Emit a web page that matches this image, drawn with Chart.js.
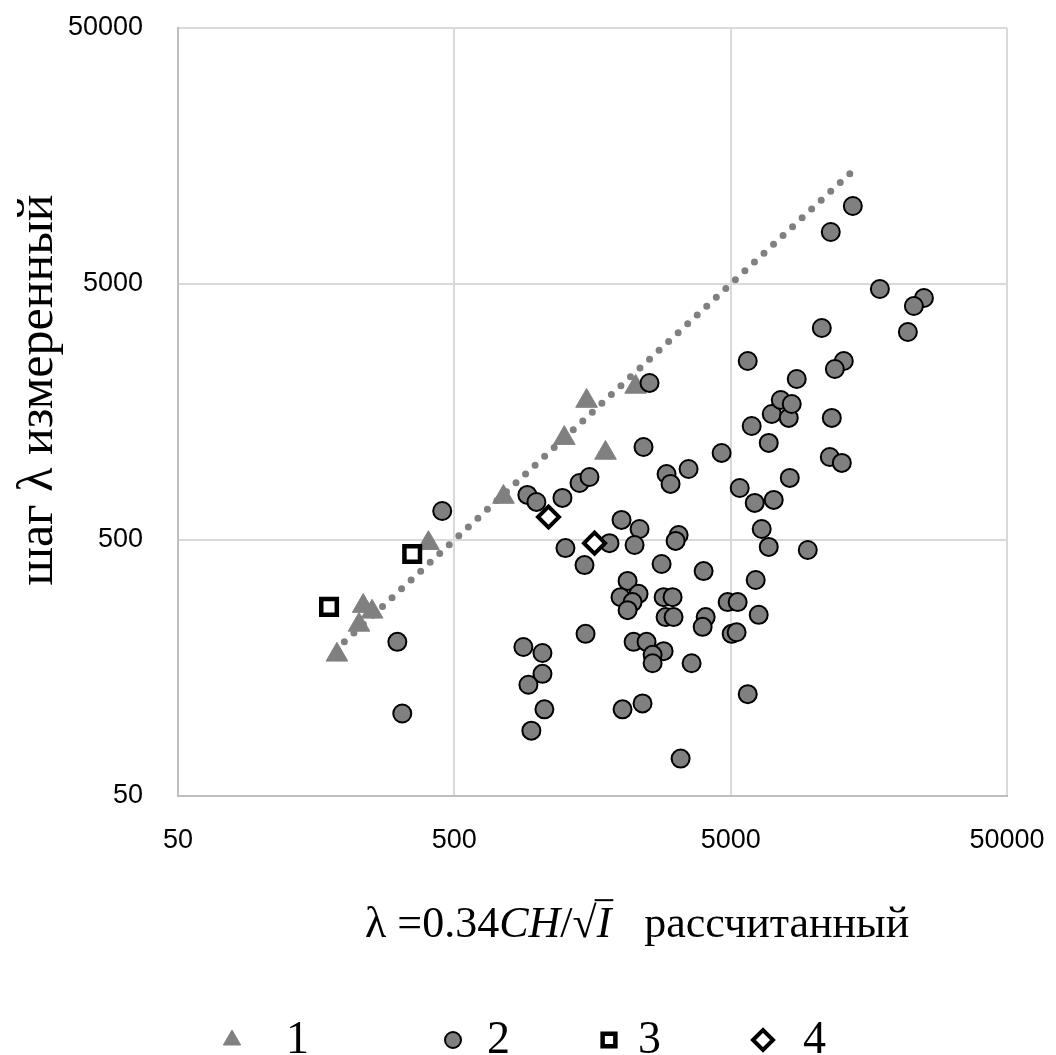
<!DOCTYPE html>
<html>
<head>
<meta charset="utf-8">
<script src="https://cdn.jsdelivr.net/npm/chart.js@4"></script>
<style>
html, body { margin: 0; padding: 0; background: #fff; }
</style>
</head>
<body>
<canvas id="chart" width="1056" height="1055"></canvas>
<script>
// tick values (both axes)
const tickValues = [50, 500, 5000, 50000];

// series 1 - triangles
const s1x = [188, 226, 234, 252, 403, 753, 1250, 1505, 1762, 2265];
const s1y = [178, 233, 276, 262, 486, 736, 1250, 1745, 1094, 1981];

// series 2 - circles
const s2x = [452, 311, 324, 889, 1042, 1042, 927, 1059, 950, 919,
    991, 1231, 1419, 1542, 1262, 1479, 1492, 1822, 2014, 2340,
    2245, 2812, 2118, 2321, 1997, 2208, 2118, 2860, 3082, 2907,
    3107, 2227, 2481, 2860, 2609, 2609, 2031, 2399, 3295, 3241,
    3160, 3991, 4876, 5300, 4060, 3959, 3611, 5042, 5254, 5764,
    6110, 7158, 6476, 6867, 9506, 6160, 6316, 5391, 8182, 2931,
    3030, 3521, 4637, 2419, 2543, 5764, 5957, 6867, 7040, 8113,
    7590, 8317, 8671, 11614, 11421, 12625, 12834, 11910, 10685, 13836,
    11514, 17335, 25024, 23015, 21888];
const s2y = [649, 200, 105, 191, 181, 150, 136, 109, 90, 750,
    704, 730, 835, 881, 465, 399, 215, 486, 599, 552,
    478, 403, 346, 308, 299, 286, 266, 299, 299, 250,
    250, 200, 200, 184, 178, 165, 109, 115, 70, 523,
    496, 378, 286, 286, 250, 229, 165, 215, 218, 125,
    698, 717, 552, 470, 457, 349, 255, 798, 874, 905,
    828, 947, 1094, 1154, 2053, 2501, 1394, 1197, 1553, 1499,
    1762, 1699, 2128, 1499, 1055, 1000, 2501, 2328, 3366, 10085,
    7981, 4780, 4409, 4102, 3246];

// series 3 - squares
const s3x = [176, 352];
const s3y = [274, 441];

// series 4 - diamonds
const s4x = [1096, 1608];
const s4y = [615, 486];

// dotted line y = x
const lineX = [200, 14400];
const lineY = [200, 14400];

const legendLabels = ['1', '2', '3', '4'];

function pts(xs, ys) {
    return xs.map((x, i) => ({ x: x, y: ys[i] }));
}

// axis titles and legend drawn on the canvas
const extrasPlugin = {
    id: 'extras',
    afterDraw(chart) {
        const ctx = chart.ctx;
        ctx.save();
        ctx.fillStyle = '#000';
        ctx.textBaseline = 'alphabetic';

        // x title
        const fs = 44;
        const reg = fs + 'px "Liberation Serif"';
        const ita = 'italic ' + fs + 'px "Liberation Serif"';
        let x = 365;
        const y = 937;
        const put = (t, f) => {
            ctx.font = f;
            ctx.fillText(t, x, y);
            x += ctx.measureText(t).width;
        };
        put('\u03bb =0.34', reg);
        put('CH', ita);
        put('/', reg);
        put('\u221a', reg);
        const barStart = x - 2;
        put('I', ita);
        ctx.fillRect(barStart, y - fs * 0.86, x - barStart + 2, 2);
        x += fs * 0.75;
        put('рассчитанный', reg);

        // y title
        ctx.save();
        ctx.translate(52, 390);
        ctx.rotate(-Math.PI / 2);
        ctx.textAlign = 'center';
        ctx.font = '50px "Liberation Serif"';
        ctx.fillText('шаг \u03bb измеренный', 0, 0);
        ctx.restore();

        // legend
        const markX = [232, 453, 609, 763];
        const textX = [286, 487, 638, 803];
        const sizes = [10, 8, 9, 10];
        ctx.font = '46px "Liberation Serif"';
        chart.data.datasets.slice(0, 4).forEach((ds, i) => {
            ctx.fillStyle = ds.backgroundColor;
            ctx.strokeStyle = ds.borderColor;
            ctx.lineWidth = ds.pointBorderWidth;
            Chart.helpers.drawPoint(ctx, {
                pointStyle: ds.pointStyle,
                radius: sizes[i],
                rotation: 0,
                borderWidth: ds.pointBorderWidth
            }, markX[i], 1040);
            ctx.fillStyle = '#000';
            ctx.fillText(legendLabels[i], textX[i], 1053);
        });
        ctx.restore();
    }
};

const tickFont = { family: 'Liberation Sans', size: 27 };

function fixX(s) {
    s.height = 259;
    s.paddingLeft = 0;
    s.paddingRight = 0;
}
function fixY(s) {
    s.width = 178;
    s.paddingTop = 0;
    s.paddingBottom = 0;
}

new Chart(document.getElementById('chart'), {
    type: 'scatter',
    data: {
        datasets: [{
            label: legendLabels[0],
            data: pts(s1x, s1y),
            pointStyle: 'triangle',
            pointRadius: 12.5,
            backgroundColor: '#808080',
            borderColor: '#808080',
            pointBorderWidth: 1,
            order: 4
        }, {
            label: legendLabels[1],
            data: pts(s2x, s2y),
            pointStyle: 'circle',
            pointRadius: 9,
            backgroundColor: '#808080',
            borderColor: '#000',
            pointBorderWidth: 2,
            order: 3
        }, {
            label: legendLabels[2],
            data: pts(s3x, s3y),
            pointStyle: 'rect',
            pointRadius: 11,
            backgroundColor: '#fff',
            borderColor: '#000',
            pointBorderWidth: 4.5,
            order: 2
        }, {
            label: legendLabels[3],
            data: pts(s4x, s4y),
            pointStyle: 'rectRot',
            pointRadius: 10.5,
            backgroundColor: '#fff',
            borderColor: '#000',
            pointBorderWidth: 4,
            order: 1
        }, {
            type: 'line',
            label: 'y=x',
            data: pts(lineX, lineY),
            showLine: true,
            pointRadius: 0,
            borderColor: '#808080',
            borderWidth: 7,
            borderDash: [0, 13],
            borderCapStyle: 'round',
            fill: false,
            order: 5
        }]
    },
    options: {
        responsive: false,
        animation: false,
        devicePixelRatio: 1,
        layout: { padding: { top: 28, right: 49, bottom: 0, left: 0 } },
        plugins: {
            legend: { display: false },
            tooltip: { enabled: false }
        },
        scales: {
            x: {
                type: 'logarithmic',
                min: 50,
                max: 50000,
                afterBuildTicks: s => { s.ticks = tickValues.map(v => ({ value: v })); },
                afterFit: fixX,
                ticks: {
                    callback: v => String(v),
                    font: tickFont,
                    color: '#000',
                    padding: 28,
                    maxRotation: 0,
                    autoSkip: false
                },
                grid: { color: '#d9d9d9', lineWidth: 2, drawTicks: false },
                border: { color: '#bfbfbf', width: 2 }
            },
            y: {
                type: 'logarithmic',
                min: 50,
                max: 50000,
                afterBuildTicks: s => { s.ticks = tickValues.map(v => ({ value: v })); },
                afterFit: fixY,
                ticks: {
                    callback: v => String(v),
                    font: tickFont,
                    color: '#000',
                    padding: 35,
                    autoSkip: false
                },
                grid: { color: '#d9d9d9', lineWidth: 2, drawTicks: false },
                border: { color: '#bfbfbf', width: 2 }
            }
        }
    },
    plugins: [extrasPlugin]
});
</script>
</body>
</html>
